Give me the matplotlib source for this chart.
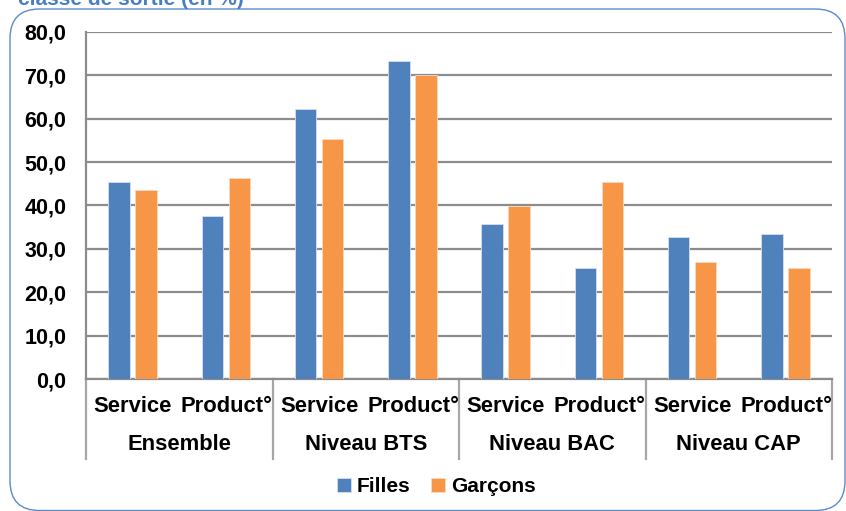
import matplotlib
matplotlib.use("Agg")
from matplotlib import pyplot as plt
from matplotlib.patches import FancyBboxPatch
import numpy as np

plt.rcParams['font.family'] = ['Liberation Sans', 'DejaVu Sans']

# data
groups = ['Ensemble', 'Niveau BTS', 'Niveau BAC', 'Niveau CAP']
sub_labels = ['Service', 'Product°']
filles = [45.4, 37.6, 62.2, 73.3, 35.7, 25.6, 32.7, 33.4]
garcons = [43.5, 46.3, 55.3, 70.0, 39.9, 45.4, 27.0, 25.6]
yticks = [0, 10, 20, 30, 40, 50, 60, 70, 80]

blue = '#4f81bd'
orange = '#f79646'
grid_col = '#8c8c8c'

W, H = 846, 511
fig = plt.figure(figsize=(W / 100., H / 100.), dpi=100)

# rounded frame around the chart (drawn behind the axes)
frame = FancyBboxPatch((10. / W, 0.5 / H), (835. / W), (H - 9.) / H - 0.5 / H,
                       boxstyle='round,pad=0,rounding_size=0.035',
                       transform=fig.transFigure, facecolor='white',
                       edgecolor='#5b8bc9', linewidth=1.0, mutation_aspect=W / float(H),
                       zorder=-5)
fig.patches.append(frame)

# title, cut off by the top edge as in the original
fig.text(18. / W, 1 - 5. / H, 'classe de sortie (en %)', color='#4a7ec4',
         fontsize=15, fontweight='bold', va='baseline', ha='left')

left, right, top, bottom = 86, 832, 32, 379
ax = fig.add_axes([left / float(W), (H - bottom) / float(H),
                   (right - left) / float(W), (bottom - top) / float(H)])
ax.set_facecolor('none')

n = len(filles)
x = np.arange(n)
bw = 0.23
ax.bar(x - 0.145, filles, bw, color=blue, edgecolor='#d6e0ee', linewidth=0.6, label='Filles', zorder=3)
ax.bar(x + 0.145, garcons, bw, color=orange, edgecolor='#fbd9bd', linewidth=0.6, label='Garçons', zorder=3)

ax.set_xlim(-0.5, n - 0.5)
ax.set_ylim(0, 80)
ax.set_yticks(yticks)
ax.set_yticklabels([('%.1f' % v).replace('.', ',') for v in yticks], fontsize=15.5, fontweight='bold')
ax.yaxis.set_tick_params(length=0, pad=14)
ax.set_xticks([])
ax.grid(axis='y', color=grid_col, linewidth=1.6, zorder=0)
ax.set_axisbelow(True)

for s in ['top', 'right']:
    ax.spines[s].set_visible(False)
ax.spines['left'].set_color(grid_col)
ax.spines['left'].set_linewidth(1.6)
ax.spines['bottom'].set_color(grid_col)
ax.spines['bottom'].set_linewidth(1.6)

# two-level category axis
trans = ax.get_xaxis_transform()
h_ax = float(bottom - top)
y_row1 = -(406 - bottom) / h_ax
y_row2 = -(444 - bottom) / h_ax
y_end = -(459 - bottom) / h_ax
for i in range(n):
    ax.text(i if i % 2 == 0 else i + 0.01, y_row1, sub_labels[i % 2], transform=trans,
            ha='center', va='center', fontsize=15.8, fontweight='bold')
for g, name in enumerate(groups):
    ax.text(2 * g + 0.5, y_row2, name, transform=trans, ha='center', va='center',
            fontsize=15.8, fontweight='bold')
for b in np.arange(0, n + 1, 2) - 0.5:
    ax.plot([b, b], [0, y_end], transform=trans, color='#a6a6a6', linewidth=1.6, clip_on=False)

fig.legend(loc='center', bbox_to_anchor=(0.516, 0.047), ncol=2, frameon=False,
           prop={'size': 15, 'weight': 'bold'}, handlelength=0.65, handleheight=0.65,
           handletextpad=0.3, columnspacing=1.0)

fig.savefig('out.png', dpi=100)
